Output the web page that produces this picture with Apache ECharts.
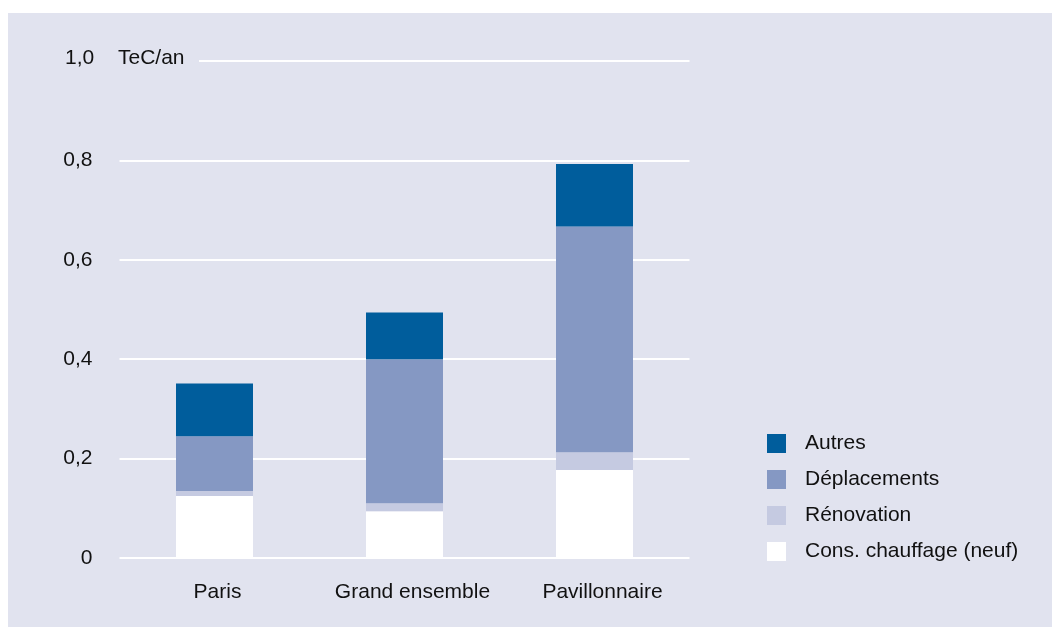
<!DOCTYPE html>
<html>
<head>
<meta charset="utf-8">
<script src="https://cdn.jsdelivr.net/npm/echarts@6/dist/echarts.min.js"></script>
<style>
  html, body { margin: 0; padding: 0; background: #fff; }
  #chart { position: absolute; left: 8px; top: 13px; width: 1044px; height: 614px; }
</style>
</head>
<body>
<div id="chart"></div>
<script>
var BG = '#e1e3ef'
var FONT = '"Liberation Sans", Arial, sans-serif'

var categories = ['Paris', 'Grand ensemble', 'Pavillonnaire']
var consChauffage = [0.125, 0.094, 0.177]
var renovation = [0.01, 0.016, 0.036]
var deplacements = [0.11, 0.29, 0.454]
var autres = [0.106, 0.094, 0.126]
var yTicks = [0, 0.2, 0.4, 0.6, 0.8, 1.0]

var chart = echarts.init(document.getElementById('chart'))

function bar(name, data, color) {
  return {
    name: name,
    type: 'bar',
    stack: 'total',
    barWidth: 77,
    data: data,
    itemStyle: { color: color },
    emphasis: { disabled: true }
  }
}

chart.setOption({
  backgroundColor: BG,
  animation: false,
  textStyle: { fontFamily: FONT, color: '#111' },
  grid: { left: 111.5, right: 362.5, top: 48, bottom: 69 },
  legend: {
    orient: 'vertical',
    left: 754,
    top: 415,
    icon: 'rect',
    itemWidth: 19,
    itemHeight: 19,
    itemGap: 15,
    data: ['Autres', 'Déplacements', 'Rénovation', 'Cons. chauffage (neuf)'],
    textStyle: { fontSize: 21, color: '#111', fontFamily: FONT, padding: [0, 0, 0, 14] }
  },
  xAxis: {
    type: 'category',
    data: categories,
    axisLine: { show: false },
    axisTick: { show: false },
    axisLabel: {
      fontSize: 21,
      color: '#111',
      margin: 24,
      interval: 0,
      // labels sit a little right of the bar centres in the original
      formatter: function (v, i) {
        return i === 0 ? '{a|' + v + '}' : '{b|' + v + '}'
      },
      rich: {
        a: { fontSize: 21, color: '#111', fontFamily: FONT, padding: [0, 0, 0, 6] },
        b: { fontSize: 21, color: '#111', fontFamily: FONT, padding: [0, 0, 0, 16] }
      }
    }
  },
  yAxis: {
    type: 'value',
    min: yTicks[0],
    max: yTicks[yTicks.length - 1],
    interval: 0.2,
    axisLine: { show: false },
    axisTick: { show: false },
    splitLine: { lineStyle: { color: '#ffffff', width: 2 } },
    axisLabel: {
      fontSize: 21,
      color: '#111',
      align: 'right',
      margin: 27,
      padding: [0, 0, 6, 0],
      formatter: function (v) {
        if (v >= 1) return ''
        return v === 0 ? '0' : v.toFixed(1).replace('.', ',')
      }
    }
  },
  graphic: [
    { type: 'rect', z: 100, shape: { x: 105, y: 44, width: 86, height: 8 }, style: { fill: BG } },
    { type: 'text', z: 101, x: 57, y: 45, style: { text: '1,0', font: '21px ' + FONT, fill: '#111', textVerticalAlign: 'middle' } },
    { type: 'text', z: 101, x: 110, y: 45, style: { text: 'TeC/an', font: '21px ' + FONT, fill: '#111', textVerticalAlign: 'middle' } }
  ],
  series: [
    bar('Cons. chauffage (neuf)', consChauffage, '#ffffff'),
    bar('Rénovation', renovation, '#c5cae1'),
    bar('Déplacements', deplacements, '#8598c3'),
    bar('Autres', autres, '#005d9c')
  ]
})
</script>
</body>
</html>
